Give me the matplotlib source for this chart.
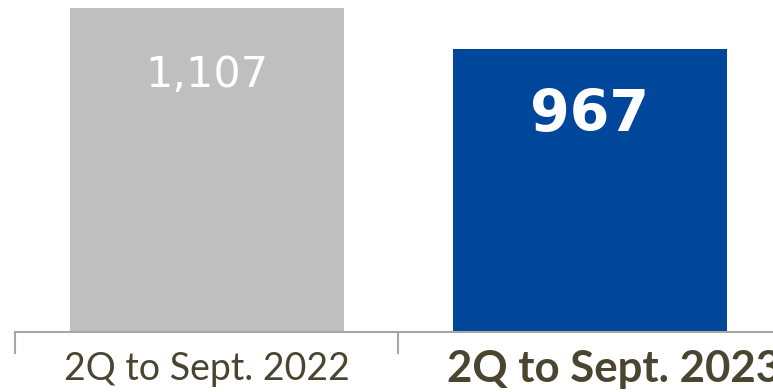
import matplotlib.pyplot as plt

periods = ['2Q to Sept. 2022', '2Q to Sept. 2023']
values = [1107, 967]
bar_colors = ['#BFBFBF', '#00469A']
value_labels = ['1,107', '967']

fig = plt.figure(figsize=(7.73, 3.92), dpi=100)
ax = fig.add_axes([15 / 773, 60 / 392, 758 / 773, 332 / 392])

positions = list(range(len(values)))
ax.bar(positions, values, width=0.715, color=bar_colors, zorder=2)

# value labels inside the bars
ax.annotate(value_labels[0], (positions[0], values[0]), xytext=(0, -67),
            textcoords='offset pixels', ha='center', va='center',
            fontsize=31, color='white', family='DejaVu Sans')
ax.annotate(value_labels[1], (positions[1], values[1]), xytext=(0, -67),
            textcoords='offset pixels', ha='center', va='center',
            fontsize=41, color='white', fontweight='bold', family='DejaVu Sans')

for spine in ['top', 'right', 'left']:
    ax.spines[spine].set_visible(False)
ax.spines['bottom'].set_color('#A6A6A6')
ax.spines['bottom'].set_linewidth(1.5)
ax.set_yticks([])

# category separators as ticks
ax.set_xticks([-0.5, 0.5, 1.5])
ax.set_xticklabels([])
ax.tick_params(axis='x', length=16, width=1.5, color='#A6A6A6')

# category names below the axis
ax.annotate(periods[0], (positions[0], 0), xycoords=('data', 'axes fraction'),
            xytext=(0, -37), textcoords='offset pixels', ha='center', va='center',
            fontsize=27, color='#4A4530', family='Lato')
ax.annotate(periods[1], (positions[1], 0), xycoords=('data', 'axes fraction'),
            xytext=(-143, -37), textcoords='offset pixels', ha='left', va='center',
            fontsize=31.5, color='#4A4530', family='Lato', fontweight='bold',
            annotation_clip=False)

ax.set_xlim(-0.5, 1.478)
ax.set_ylim(0, 1134)

fig.savefig('out.png', dpi=100)
